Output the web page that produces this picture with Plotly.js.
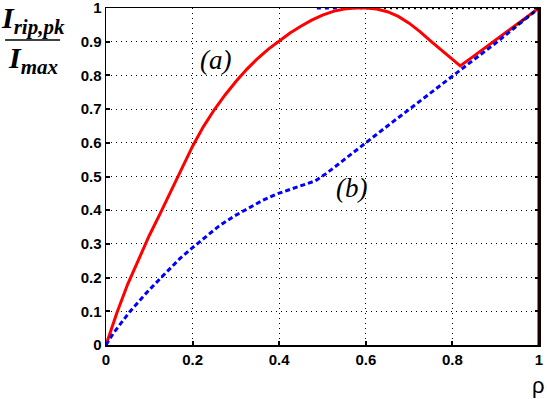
<!DOCTYPE html>
<html>
<head>
<meta charset="utf-8">
<script src="https://cdn.plot.ly/plotly-3.0.1.min.js"></script>
<style>html,body{margin:0;padding:0;background:#fff;}#chart{width:547px;height:399px;}</style>
</head>
<body>
<div id="chart"></div>
<script>
// Curve (a): red solid
const rhoA = [0, 0.025, 0.05, 0.075, 0.1, 0.125, 0.15, 0.175, 0.2, 0.225, 0.25, 0.275, 0.3, 0.325, 0.35, 0.375, 0.4, 0.425, 0.45, 0.475, 0.5, 0.525, 0.55, 0.575, 0.6, 0.625, 0.65, 0.675, 0.7, 0.725, 0.75, 0.775, 0.8, 0.818, 0.85, 0.9, 0.95, 1];
const valA = [0, 0.095, 0.18, 0.255, 0.325, 0.39, 0.455, 0.52, 0.59, 0.648, 0.698, 0.742, 0.782, 0.818, 0.85, 0.878, 0.903, 0.926, 0.946, 0.964, 0.979, 0.99, 0.997, 1.0, 1.0, 0.997, 0.989, 0.975, 0.955, 0.93, 0.902, 0.874, 0.848, 0.828, 0.858, 0.905, 0.952, 1];
// Curve (b): blue dashed
const rhoB = [0, 0.017, 0.055, 0.09, 0.125, 0.171, 0.2, 0.232, 0.26, 0.294, 0.33, 0.36, 0.394, 0.44, 0.471, 0.483, 0.51, 0.54, 0.57, 0.598, 0.65, 0.7, 0.75, 0.8, 0.85, 0.9, 0.95, 1];
const valB = [0, 0.035, 0.099, 0.15, 0.197, 0.257, 0.289, 0.324, 0.352, 0.381, 0.408, 0.428, 0.448, 0.468, 0.481, 0.487, 0.51, 0.54, 0.571, 0.6, 0.65, 0.699, 0.749, 0.798, 0.847, 0.896, 0.947, 1];
// Curve (b) upper segment at 1
const rhoB2 = [0.487, 0.545];
const valB2 = [1, 1];
// Black dotted reference segments
const rhoC1 = [0.545, 1];
const valC1 = [1, 1];
const rhoC2 = [0.94, 1];
const valC2 = [0.94, 1];

const xTicks = [0, 0.2, 0.4, 0.6, 0.8, 1];
const xTickText = ['0', '0.2', '0.4', '0.6', '0.8', '1'];
const yTicks = [0, 0.1, 0.2, 0.3, 0.4, 0.5, 0.6, 0.7, 0.8, 0.9, 1];
const yTickText = ['0', '0.1', '0.2', '0.3', '0.4', '0.5', '0.6', '0.7', '0.8', '0.9', '1'];

const traces = [
  {x: rhoC1, y: valC1, mode: 'lines', line: {color: '#000', width: 2.5, dash: '2px,4px'}, hoverinfo: 'skip'},
  {x: rhoB2, y: valB2, mode: 'lines', line: {color: '#0000ff', width: 3, dash: '4px,4px'}, hoverinfo: 'skip'},
  {x: rhoA, y: valA, mode: 'lines', line: {color: '#ff0000', width: 3}},
  {x: rhoB, y: valB, mode: 'lines', line: {color: '#0000ff', width: 3, dash: '5px,3px'}},
  {x: rhoC2, y: valC2, mode: 'lines', line: {color: '#000', width: 2.5, dash: '2px,4px'}, hoverinfo: 'skip'}
];

const tickFont = {family: 'Liberation Sans, Arial, sans-serif', size: 15, color: '#000', weight: 'bold'};

const layout = {
  width: 547, height: 399,
  margin: {l: 106, r: 8, t: 8, b: 54, pad: 0},
  paper_bgcolor: '#fff', plot_bgcolor: '#fff',
  showlegend: false,
  xaxis: {
    range: [0, 1], tickvals: xTicks, ticktext: xTickText, tickfont: tickFont,
    showgrid: true, gridcolor: '#000', gridwidth: 1, griddash: '1px,4px',
    showline: true, linecolor: '#000', linewidth: 1.5, mirror: true,
    ticks: 'inside', ticklen: 4, tickwidth: 2, tickcolor: '#000',
    ticklabeloverflow: 'allow',
    zeroline: false, fixedrange: true
  },
  yaxis: {
    range: [0, 1], tickvals: yTicks, ticktext: yTickText, tickfont: tickFont,
    showgrid: true, gridcolor: '#000', gridwidth: 1, griddash: '1px,4px',
    showline: true, linecolor: '#000', linewidth: 1.5, mirror: 'ticks',
    ticks: 'inside', ticklen: 4, tickwidth: 2, tickcolor: '#000',
    ticklabeloverflow: 'allow',
    zeroline: false, fixedrange: true
  },
  shapes: [
    {type: 'line', xref: 'paper', yref: 'paper', x0: 1, x1: 1, y0: 0, y1: 1, line: {color: '#1a0000', width: 3}},
    {type: 'line', xref: 'paper', yref: 'paper', x0: -0.233, x1: -0.106, y0: 0.905, y1: 0.905, line: {color: '#000', width: 1.5}}
  ],
  annotations: [
    {xref: 'paper', yref: 'paper', x: -0.169, y: 0.965, xanchor: 'center', yanchor: 'middle', showarrow: false,
     text: '<b><i>I<sub>rip,pk</sub></i></b>', font: {family: 'Liberation Serif, Times New Roman, serif', size: 30, color: '#000'}},
    {xref: 'paper', yref: 'paper', x: -0.169, y: 0.845, xanchor: 'center', yanchor: 'middle', showarrow: false,
     text: '<b><i>I<sub>max</sub></i></b>', font: {family: 'Liberation Serif, Times New Roman, serif', size: 30, color: '#000'}},
    {xref: 'x', yref: 'y', x: 0.252, y: 0.846, showarrow: false, xanchor: 'center', yanchor: 'middle',
     text: '<i>(a)</i>', font: {family: 'Liberation Serif, Times New Roman, serif', size: 27, color: '#000'}},
    {xref: 'x', yref: 'y', x: 0.568, y: 0.466, showarrow: false, xanchor: 'center', yanchor: 'middle',
     text: '<i>(b)</i>', font: {family: 'Liberation Serif, Times New Roman, serif', size: 27, color: '#000'}},
    {xref: 'paper', yref: 'paper', x: 0.998, y: -0.119, showarrow: false, xanchor: 'center', yanchor: 'middle',
     text: 'ρ', font: {family: 'Liberation Sans, Arial, sans-serif', size: 22, color: '#000'}}
  ]
};

Plotly.newPlot('chart', traces, layout, {staticPlot: true, displayModeBar: false});
</script>
</body>
</html>
